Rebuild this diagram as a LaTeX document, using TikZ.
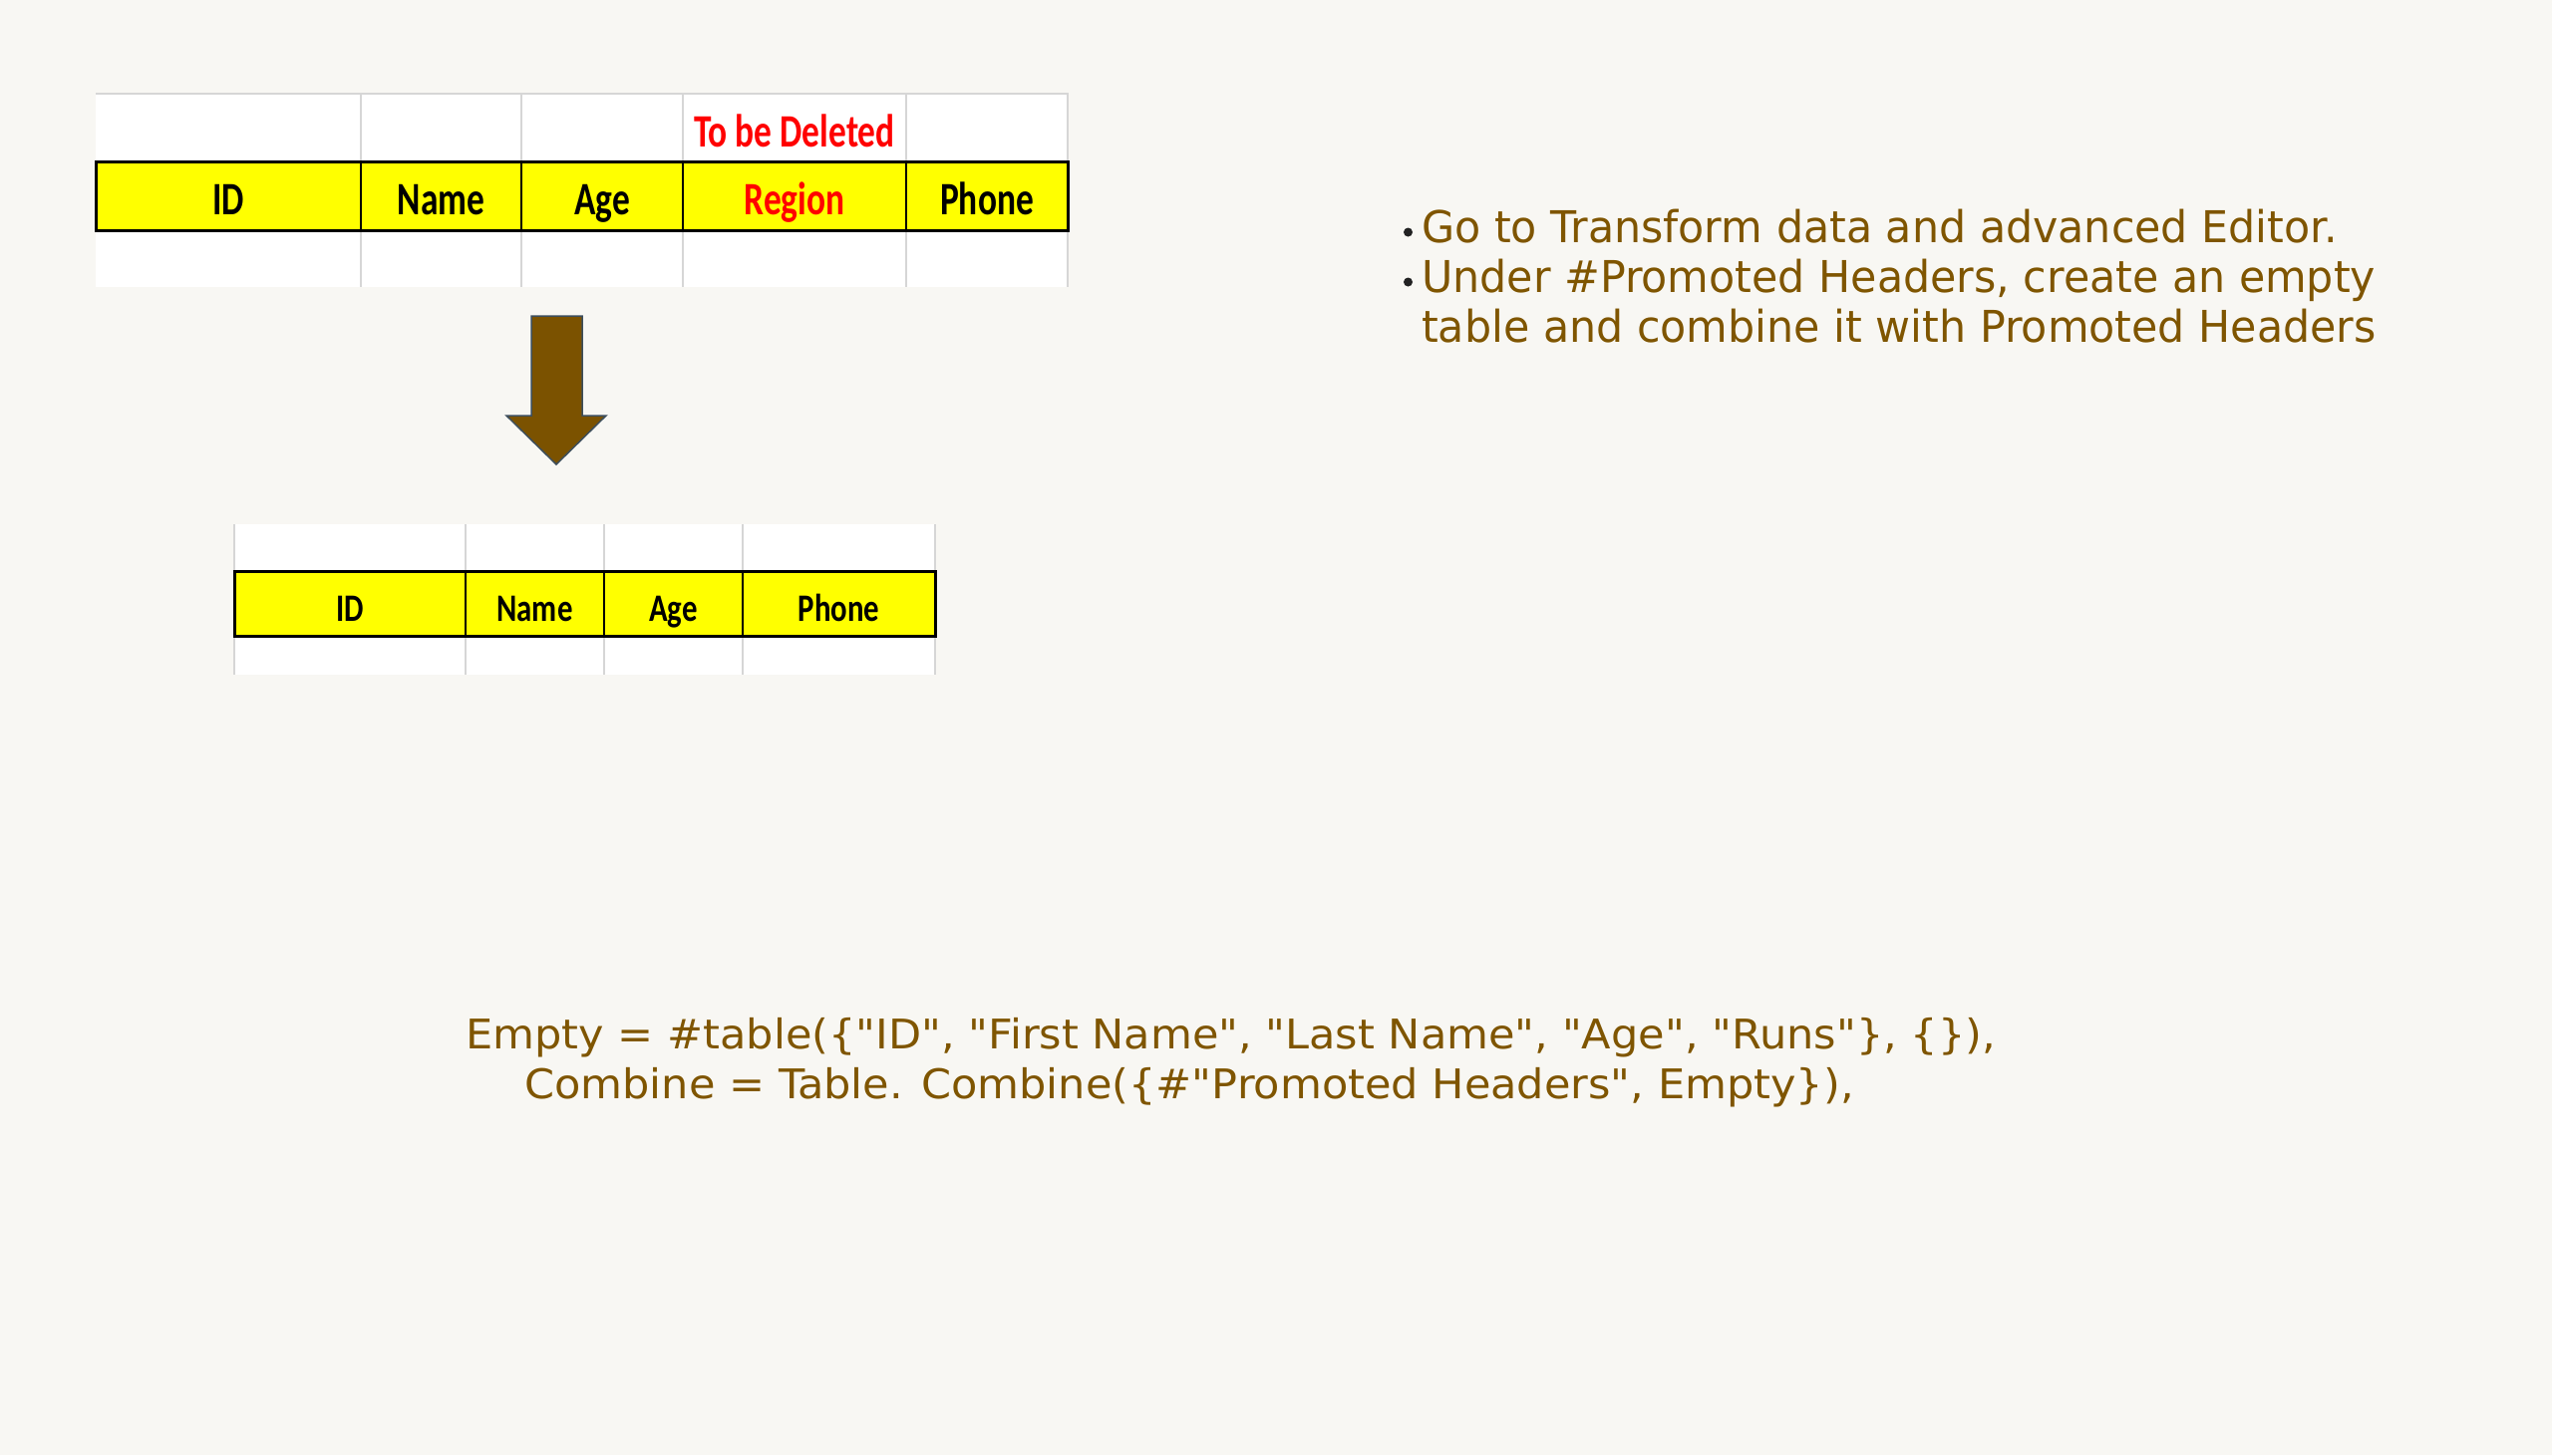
\documentclass[tikz,border=0pt]{standalone}
\usepackage{fontspec}
\setmainfont{DejaVu Sans}
\newfontfamily\bodyfont[FakeStretch=0.972]{DejaVu Sans}
\newfontfamily\codefont[FakeStretch=1.05]{DejaVu Sans}
\newfontfamily\hdrA[FakeStretch=0.76]{Carlito}
\newfontfamily\hdrB[FakeStretch=0.79]{Carlito}
\definecolor{bgc}{HTML}{F8F7F3}
\definecolor{txtc}{HTML}{7F5500}
\definecolor{arrc}{HTML}{7B5200}
\definecolor{arrline}{HTML}{3D4E5C}
\definecolor{gridc}{HTML}{D6D6D6}
\definecolor{hdry}{HTML}{FFFF00}
\definecolor{bulc}{HTML}{222222}
\begin{document}
\begin{tikzpicture}[x=1pt,y=-1pt,
  gridline/.style={draw=gridc,line width=2},
  hdrrow/.style={fill=hdry,draw=black,line width=3},
  hdrsep/.style={draw=black,line width=2},
  hdrtxtA/.style={anchor=base,inner sep=0,font=\hdrA\bfseries\fontsize{46.6}{50}\selectfont,text=black},
  hdrtxtB/.style={anchor=base,inner sep=0,font=\hdrB\bfseries\fontsize{39}{42}\selectfont,text=black},
  bodytxt/.style={anchor=base west,inner sep=0,font=\bodyfont\fontsize{44}{50}\selectfont,text=txtc},
  codetxt/.style={anchor=base west,inner sep=0,font=\codefont\fontsize{41}{50}\selectfont,text=txtc},
  bulletdot/.style={circle,fill=bulc,inner sep=0,minimum size=9}]
\useasboundingbox (0,0) rectangle (2560,1460);
\fill[bgc] (0,0) rectangle (2560,1460);

% ---------- top table ----------
\fill[white] (96,93) rectangle (1071,288);
\draw[gridline] (96,94) -- (1071,94);
\foreach \x in {362,523,685,909,1071} \draw[gridline] (\x,93) -- (\x,288);
\draw[hdrrow] (96,162) rectangle (1071,231);
\foreach \x in {362,523,685,909} \draw[hdrsep] (\x,162) -- (\x,231);
\node[hdrtxtA] (tID) at (229,215) {ID};
\node[hdrtxtA] (tName) at (442.5,215) {Name};
\node[hdrtxtA] (tAge) at (604,215) {Age};
\node[hdrtxtA,text=red] (tRegion) at (797,215) {Region};
\node[hdrtxtA] (tPhone) at (990,215) {Phone};
\node[hdrtxtA,text=red] (tDel) at (797,147) {To be Deleted};

% ---------- arrow ----------
\draw[fill=arrc,draw=arrline,line width=1.5,line join=miter]
  (533,317) -- (584,317) -- (584,417) -- (608,417) -- (558,466) -- (508,417) -- (533,417) -- cycle;

% ---------- bottom table ----------
\fill[white] (235,526) rectangle (938,677);
\foreach \x in {235,467,606,745,938} \draw[gridline] (\x,526) -- (\x,677);
\draw[hdrrow] (235,573) rectangle (938,638);
\foreach \x in {467,606,745} \draw[hdrsep] (\x,573) -- (\x,638);
\node[hdrtxtB] (bID) at (351,623) {ID};
\node[hdrtxtB] (bName) at (536.5,623) {Name};
\node[hdrtxtB] (bAge) at (675.5,623) {Age};
\node[hdrtxtB] (bPhone) at (841.5,623) {Phone};

% ---------- bullets ----------
\node[bulletdot] (d1) at (1412.5,233) {};
\node[bulletdot] (d2) at (1412.5,283) {};
\node[bodytxt] (l1) at (1426,243) {Go to Transform data and advanced Editor.};
\node[bodytxt] (l2) at (1426,293) {Under \#Promoted Headers, create an empty};
\node[bodytxt] (l3) at (1426,343) {table and combine it with Promoted Headers};

% ---------- code ----------
\node[codetxt] (c1) at (467,1052) {Empty = \#table(\{"ID", "First Name", "Last Name", "Age", "Runs"\}, \{\}),};
\node[codetxt] (c2) at (526,1102) {Combine = Table. Combine(\{\#"Promoted Headers", Empty\}),};
\end{tikzpicture}
\end{document}
